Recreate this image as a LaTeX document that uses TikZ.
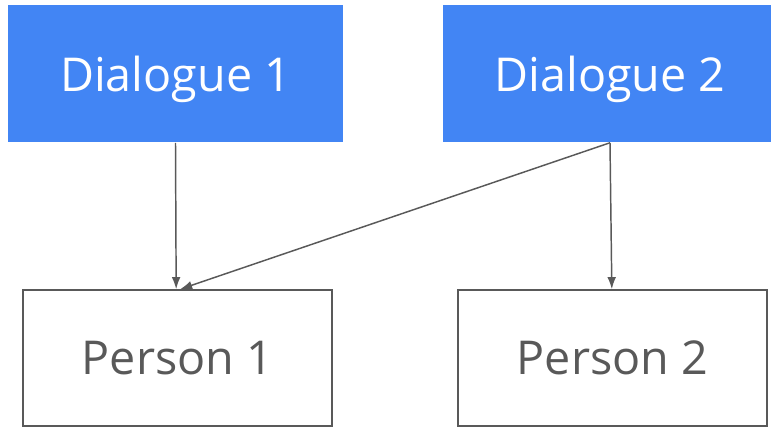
\documentclass[tikz,border=0pt]{standalone}
\usepackage{fontspec}
\setmainfont{Open Sans}
\usepackage{tikz}
\usetikzlibrary{positioning}
\usetikzlibrary{arrows.meta}

\definecolor{gblue}{HTML}{4285F4}
\definecolor{ggray}{HTML}{595959}

\tikzset{
  dialogue/.style={fill=gblue, text=white, minimum width=335*0.75pt, minimum height=137.5*0.75pt, inner sep=0pt, text depth=0pt, font=\fontsize{35}{40}\selectfont},
  person/.style={draw=ggray, line width=1.2pt, text=ggray, minimum width=309.5*0.75pt, minimum height=136*0.75pt, inner sep=0pt, text depth=0pt, font=\fontsize{35}{40}\selectfont},
  link/.style={draw=ggray, line width=1.1pt, -{Latex[length=9pt,width=6.5pt]}}
}

\begin{document}
\begin{tikzpicture}[x=0.75pt, y=-0.75pt]
\useasboundingbox (0,0) rectangle (771,427);

%dialogues
\node[dialogue] (d1) at (175.5,73.75) {Dialogue 1};
\node[dialogue] (d2) at (610,73.75) {Dialogue 2};

%persons
\node[person] (p1) at (177.5,358) {Person 1};
\node[person] (p2) at (612.5,358) {Person 2};

%links
\draw[link] (d1.south) -- ([xshift=-1pt]p1.north);
\draw[link] (d2.south) -- ([xshift=2pt]p1.north);
\draw[link] (d2.south) -- ([xshift=-0.5pt]p2.north);

\end{tikzpicture}
\end{document}
